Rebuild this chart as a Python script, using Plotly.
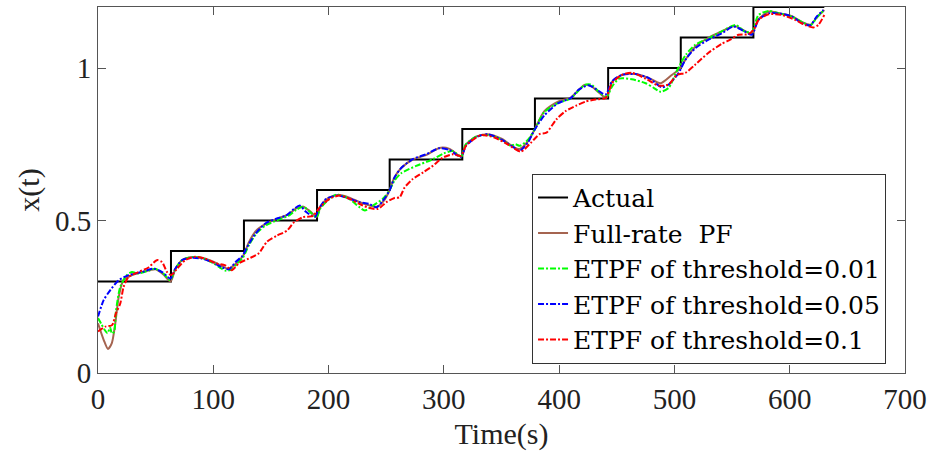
import plotly.graph_objects as go

# ---- data ----
step_t = [0, 63.3, 126.6, 190, 253, 316, 379, 442.5, 505.5, 568.5, 630]
step_v = [0.3, 0.4, 0.5, 0.6, 0.7, 0.8, 0.9, 1.0, 1.1, 1.2, 1.2]

pf_t = [0, 4.9, 8.6, 12, 15, 18, 22, 29, 37, 45, 50, 57, 63, 67, 73, 82, 90, 100, 108, 113, 120,
        126, 131, 138, 146, 155, 165, 172, 178, 184, 189.5, 193, 199, 208, 218, 227, 235, 242,
        248, 253, 257, 263, 273, 285, 296, 305, 315, 319, 328, 338, 350, 361, 366, 373, 379,
        387, 399, 410, 422, 428, 435, 441, 446, 455, 466, 478, 488, 498, 504, 510, 518, 530,
        541, 552, 561, 567, 573, 582, 590, 602, 611, 618, 624, 630]
pf_v = [0.163, 0.109, 0.079, 0.098, 0.163, 0.25, 0.304, 0.32, 0.33, 0.337, 0.34, 0.322, 0.30,
        0.34, 0.37, 0.38, 0.378, 0.365, 0.35, 0.342, 0.36, 0.385, 0.43, 0.47, 0.49, 0.505, 0.52,
        0.54, 0.545, 0.53, 0.512, 0.545, 0.572, 0.584, 0.575, 0.56, 0.55, 0.545, 0.565, 0.60,
        0.64, 0.672, 0.70, 0.715, 0.738, 0.735, 0.71, 0.748, 0.775, 0.783, 0.768, 0.74, 0.735,
        0.76, 0.80, 0.858, 0.89, 0.903, 0.944, 0.94, 0.918, 0.902, 0.955, 0.978, 0.98, 0.967,
        0.95, 0.978, 0.995, 1.03, 1.07, 1.10, 1.12, 1.138, 1.122, 1.112, 1.16, 1.185, 1.18,
        1.17, 1.15, 1.142, 1.168, 1.19]

e01_t = [0, 3, 6, 8.2, 10.5, 12, 14, 15.5, 19.3, 25, 29.4, 35, 45, 49.6, 56.8, 62.6, 67, 73, 82,
         90, 100, 106, 111, 116, 121, 126, 131, 138, 146, 155, 165, 172, 178, 184, 189.5, 193,
         199, 206.7, 218, 227, 231.4, 238.6, 247, 253, 257, 263, 276, 290, 300, 307.5, 315, 319,
         328, 338, 350, 358, 362, 366, 373, 379, 387, 399, 410, 422, 428, 435, 441, 446, 452,
         463, 475, 482, 488, 495, 502, 510, 518, 530, 541, 553, 561, 567, 573, 582, 590, 602,
         611, 618, 624, 630]
e01_v = [0.18, 0.16, 0.14, 0.13, 0.15, 0.13, 0.135, 0.20, 0.282, 0.321, 0.331, 0.326, 0.337,
         0.342, 0.326, 0.304, 0.34, 0.37, 0.38, 0.377, 0.36, 0.345, 0.335, 0.34, 0.36, 0.38,
         0.42, 0.46, 0.485, 0.50, 0.515, 0.535, 0.545, 0.528, 0.51, 0.54, 0.565, 0.585, 0.57,
         0.543, 0.533, 0.549, 0.571, 0.60, 0.63, 0.655, 0.679, 0.70, 0.72, 0.728, 0.71, 0.75,
         0.775, 0.78, 0.765, 0.745, 0.75, 0.745, 0.765, 0.80, 0.855, 0.885, 0.90, 0.944, 0.945,
         0.92, 0.905, 0.94, 0.965, 0.963, 0.95, 0.935, 0.922, 0.935, 0.99, 1.044, 1.076, 1.098,
         1.12, 1.141, 1.12, 1.118, 1.174, 1.187, 1.18, 1.168, 1.15, 1.14, 1.168, 1.19]

e05_t = [0, 4.9, 10.7, 17.9, 26.6, 38, 48.4, 55.6, 62.8, 67, 73, 81.6, 90, 99, 107.9, 113.6,
         119.4, 125, 131, 136.7, 145.4, 154, 163, 170, 175, 180, 188, 192.3, 198, 208.3, 218.3,
         227, 235.6, 241.4, 247.1, 252.9, 257.2, 263, 273, 284.6, 296, 304.8, 314.9, 319.2, 329,
         338, 349.6, 361, 365.6, 372.8, 378.6, 387.3, 398.8, 410.3, 417, 425.9, 434.5, 440.3,
         446, 454.7, 466.3, 477.8, 489, 495, 503.7, 509.5, 518.1, 529.6, 541.2, 551.3, 559.9,
         567.1, 573, 581.6, 590.3, 601.8, 610.5, 617.7, 623.5, 629.2]
e05_v = [0.185, 0.239, 0.272, 0.304, 0.321, 0.331, 0.342, 0.331, 0.31, 0.342, 0.37, 0.378,
         0.375, 0.364, 0.346, 0.34, 0.364, 0.383, 0.424, 0.457, 0.491, 0.505, 0.516, 0.538,
         0.549, 0.53, 0.511, 0.543, 0.571, 0.582, 0.571, 0.56, 0.554, 0.543, 0.565, 0.598,
         0.641, 0.672, 0.701, 0.717, 0.737, 0.731, 0.709, 0.745, 0.775, 0.783, 0.766, 0.739,
         0.728, 0.755, 0.797, 0.845, 0.884, 0.902, 0.929, 0.943, 0.924, 0.913, 0.957, 0.978,
         0.98, 0.967, 0.937, 0.946, 0.984, 1.027, 1.065, 1.093, 1.114, 1.136, 1.122, 1.109,
         1.158, 1.179, 1.179, 1.169, 1.147, 1.14, 1.169, 1.19]

e10_t = [0, 6.4, 12.2, 15.6, 19.3, 22.2, 26.5, 35, 43.8, 51, 55.5, 59.9, 63.6, 68.5, 75.7, 84.4,
         93, 101.7, 110.4, 116, 122, 130.7, 139.3, 146.5, 155, 164, 170, 178, 186.5, 192.3,
         200.9, 209.6, 218.3, 227, 235.6, 242.9, 250.1, 257.2, 261.6, 265.9, 273, 281.8, 290.4,
         299, 307.7, 314.9, 319.2, 332, 343.8, 355.3, 366.8, 375.5, 383, 389, 397.7, 405.7,
         414.4, 423, 431.7, 440.3, 446, 454.7, 463.3, 474.9, 486.5, 495, 502.3, 509.5, 518,
         529.6, 541, 548.4, 555.6, 564.3, 568.6, 573, 581.6, 593, 604.6, 613.3, 620.5, 624.8, 630]
e10_v = [0.136, 0.152, 0.157, 0.196, 0.228, 0.282, 0.315, 0.331, 0.346, 0.37, 0.364, 0.331,
         0.321, 0.342, 0.37, 0.381, 0.375, 0.36, 0.353, 0.337, 0.359, 0.375, 0.392, 0.43, 0.45,
         0.467, 0.494, 0.511, 0.515, 0.543, 0.571, 0.582, 0.571, 0.554, 0.541, 0.538, 0.56,
         0.574, 0.576, 0.608, 0.636, 0.657, 0.679, 0.706, 0.717, 0.712, 0.745, 0.78, 0.772,
         0.75, 0.726, 0.755, 0.783, 0.788, 0.832, 0.859, 0.876, 0.89, 0.897, 0.902, 0.951,
         0.978, 0.984, 0.965, 0.942, 0.946, 0.978, 0.984, 1.011, 1.05, 1.079, 1.093, 1.109,
         1.111, 1.125, 1.158, 1.176, 1.174, 1.158, 1.141, 1.133, 1.141, 1.174]

names = ["Actual", "Full-rate  PF", "ETPF of threshold=0.01",
         "ETPF of threshold=0.05", "ETPF of threshold=0.1"]

FONT = "Liberation Serif, Times New Roman, serif"
LFONT = "DejaVu Serif, serif"
DD = "6px,2px,2px,2px"

fig = go.Figure()
fig.add_trace(go.Scatter(x=step_t, y=step_v, mode="lines", name=names[0],
                         line=dict(color="black", width=2, shape="hv")))
fig.add_trace(go.Scatter(x=pf_t, y=pf_v, mode="lines", name=names[1],
                         line=dict(color="rgb(165,100,80)", width=2, shape="spline", smoothing=0.7)))
fig.add_trace(go.Scatter(x=e01_t, y=e01_v, mode="lines", name=names[2],
                         line=dict(color="#00FF00", width=2, dash=DD, shape="spline", smoothing=0.7)))
fig.add_trace(go.Scatter(x=e05_t, y=e05_v, mode="lines", name=names[3],
                         line=dict(color="#0000FF", width=2, dash=DD, shape="spline", smoothing=0.7)))
fig.add_trace(go.Scatter(x=e10_t, y=e10_v, mode="lines", name=names[4],
                         line=dict(color="#FF0000", width=2, dash=DD, shape="spline", smoothing=0.7)))

axis_common = dict(showgrid=False, zeroline=False, showline=True, linecolor="#555555",
                   linewidth=1, mirror="ticks", ticks="inside", ticklen=8, tickwidth=1,
                   tickcolor="#555555", tickfont=dict(family=FONT, size=29, color="#222"))

fig.update_xaxes(range=[0, 700], tickvals=[0, 100, 200, 300, 400, 500, 600, 700],
                 title=dict(text="Time(s)", font=dict(family=FONT, size=30, color="#222"), standoff=9),
                 **axis_common)
fig.update_yaxes(range=[0, 1.2], tickvals=[0, 0.5, 1], ticktext=["0", "0.5", "1"],
                 title=dict(text="x(t)", font=dict(family=FONT, size=30, color="#222"), standoff=6),
                 **axis_common)

fig.update_layout(
    width=933, height=458,
    margin=dict(l=98, r=26, t=6, b=85),
    font=dict(family=FONT, color="#222"),
    plot_bgcolor="white", paper_bgcolor="white",
    showlegend=True,
    legend=dict(x=0.9765, y=0.025, xanchor="right", yanchor="bottom",
                bgcolor="white", bordercolor="#333333", borderwidth=1,
                font=dict(family=LFONT, size=25, color="black"),
                tracegroupgap=0, itemwidth=30),
)

fig.write_html("out.html")
